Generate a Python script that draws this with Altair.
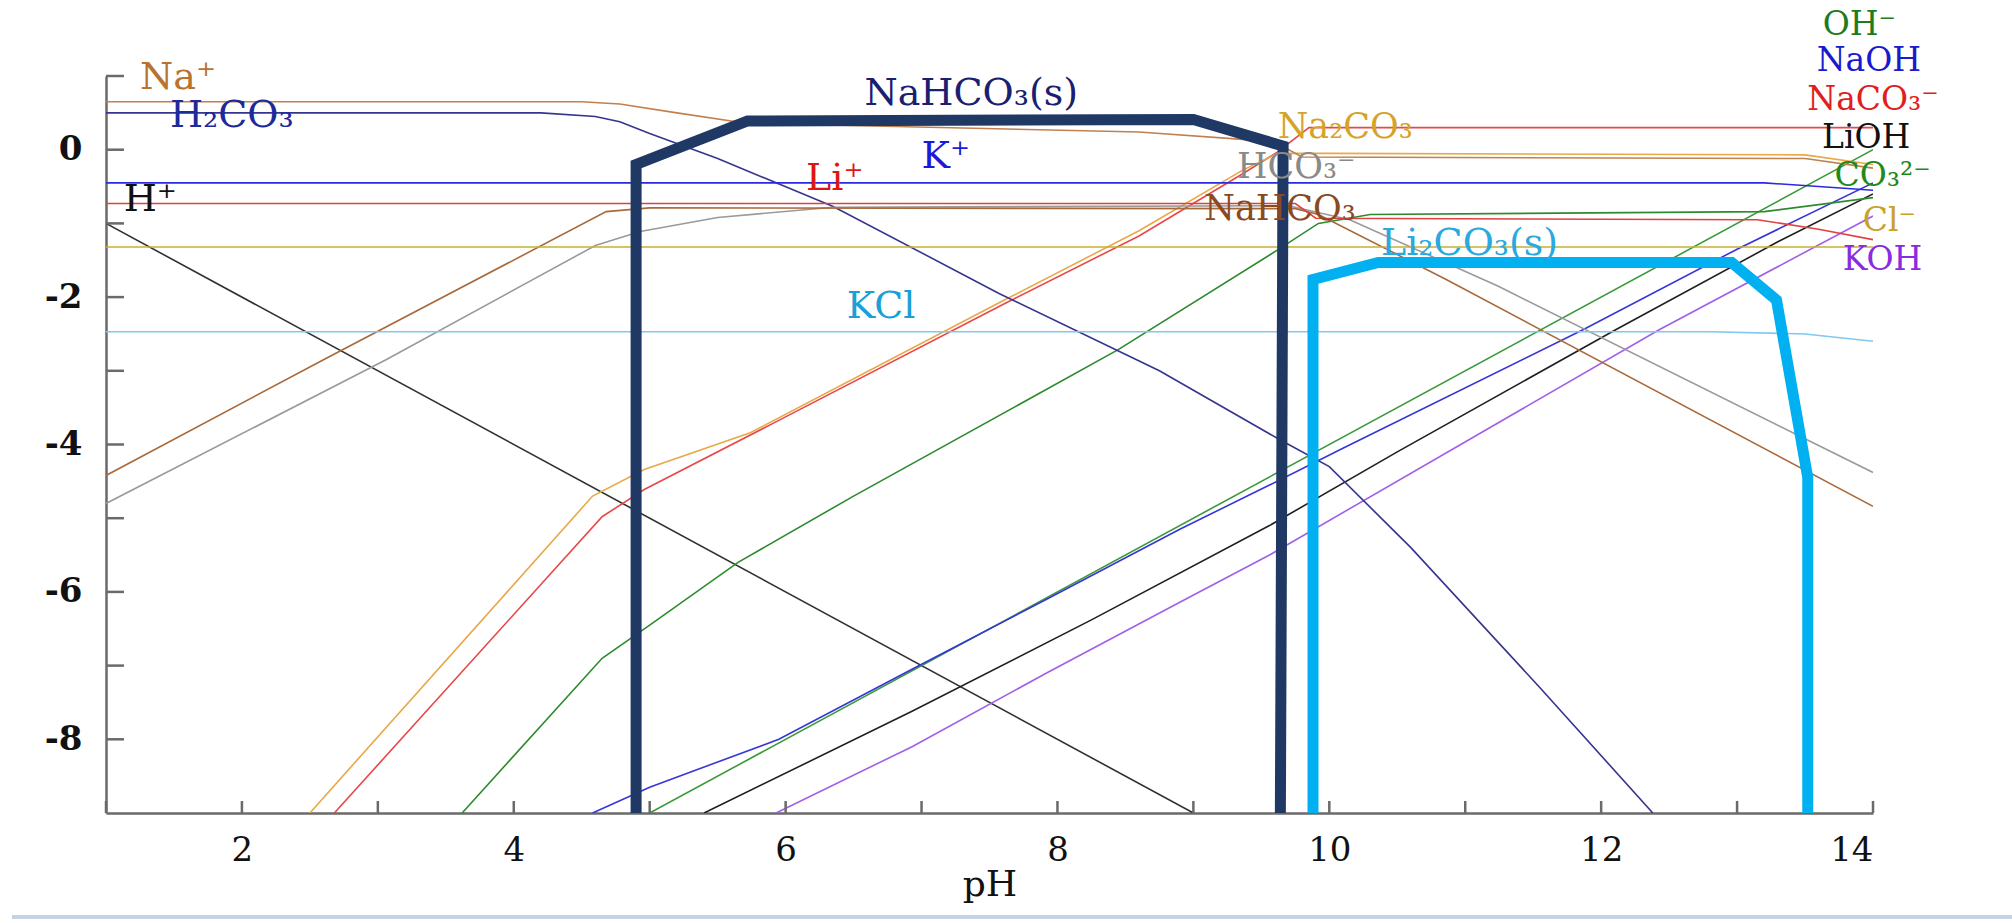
import altair as alt
import pandas as pd

# ---------------- data ----------------
hplus_ph = [1.0, 9.0]
hplus_log = [-1.0, -9.0]

oh_ph = [5.0, 14.0]
oh_log = [-9.0, 0.0]

naoh_ph = [4.58, 5.0, 5.95, 6.93, 7.92, 8.9, 9.56, 10.1, 11.87, 13.0, 14.0]
naoh_log = [-9.0, -8.65, -8.0, -7.05, -6.1, -5.15, -4.55, -4.05, -2.44, -1.35, -0.45]

lioh_ph = [5.4, 6.93, 8.25, 9.56, 10.5, 12.1, 13.3, 14.0]
lioh_log = [-9.0, -7.62, -6.38, -5.1, -4.1, -2.45, -1.25, -0.6]

koh_ph = [5.93, 6.93, 7.92, 8.9, 9.56, 12.43, 14.0]
koh_log = [-9.0, -8.1, -7.1, -6.14, -5.5, -2.44, -0.9]

co3_ph = [3.62, 4.65, 5.0, 5.65, 6.5, 8.45, 9.62, 9.92, 10.3, 13.2, 14.0]
co3_log = [-9.0, -6.9, -6.45, -5.6, -4.7, -2.71, -1.36, -1.0, -0.88, -0.84, -0.65]

naco3_ph = [2.68, 4.65, 4.96, 5.9, 7.62, 8.6, 9.36, 9.62, 9.85, 14.0]
naco3_log = [-9.0, -4.98, -4.61, -3.72, -2.08, -1.17, -0.33, -0.03, 0.3, 0.3]

na2co3_ph = [2.5, 4.58, 4.96, 5.74, 7.62, 8.6, 9.36, 9.62, 10.0, 13.5, 14.0]
na2co3_log = [-9.0, -4.7, -4.34, -3.84, -2.03, -1.1, -0.28, -0.05, -0.05, -0.07, -0.2]

na_ph = [1.0, 4.5, 4.78, 5.2, 5.71, 8.6, 9.36, 9.62, 9.8, 13.5, 14.0]
na_log = [0.65, 0.65, 0.62, 0.5, 0.36, 0.24, 0.14, 0.08, -0.1, -0.12, -0.25]

h2co3_ph = [1.0, 4.2, 4.6, 4.78, 5.0, 5.5, 6.35, 7.57, 8.75, 9.65, 10.0, 10.6, 11.55, 12.38]
h2co3_log = [0.5, 0.5, 0.45, 0.38, 0.22, -0.12, -0.77, -1.95, -3.0, -3.95, -4.3, -5.4, -7.3, -9.0]

hco3_ph = [1.0, 3.06, 4.6, 4.93, 5.5, 6.35, 9.7, 10.15, 11.24, 14.0]
hco3_log = [-4.8, -2.85, -1.3, -1.11, -0.92, -0.78, -0.76, -0.95, -1.85, -4.38]

nahco3_ph = [1.0, 2.6, 4.68, 5.0, 9.75, 9.92, 10.86, 14.0]
nahco3_log = [-4.42, -2.85, -0.84, -0.79, -0.8, -0.88, -1.76, -4.84]

kplus_ph = [1.0, 13.2, 13.6, 14.0]
kplus_log = [-0.45, -0.45, -0.5, -0.55]

liplus_ph = [1.0, 9.75, 9.9, 13.15, 13.6, 14.0]
liplus_log = [-0.73, -0.73, -0.93, -0.95, -1.08, -1.22]

cl_ph = [1.0, 14.0]
cl_log = [-1.32, -1.32]

kcl_ph = [1.0, 12.8, 13.5, 14.0]
kcl_log = [-2.47, -2.47, -2.5, -2.6]

series_names = ["H+", "OH-", "NaOH", "LiOH", "KOH", "CO3", "NaCO3-", "Na2CO3",
                "Na+", "H2CO3", "HCO3-", "NaHCO3", "K+", "Li+", "Cl-", "KCl"]
series_ph = [hplus_ph, oh_ph, naoh_ph, lioh_ph, koh_ph, co3_ph, naco3_ph, na2co3_ph,
             na_ph, h2co3_ph, hco3_ph, nahco3_ph, kplus_ph, liplus_ph, cl_ph, kcl_ph]
series_log = [hplus_log, oh_log, naoh_log, lioh_log, koh_log, co3_log, naco3_log, na2co3_log,
              na_log, h2co3_log, hco3_log, nahco3_log, kplus_log, liplus_log, cl_log, kcl_log]
series_colors = ["#303030", "#3a9a3a", "#3636d6", "#202020", "#a060e8", "#2e8a2e", "#e84848", "#e8a848",
                 "#c08050", "#35358f", "#9a9a9a", "#a86a3c", "#2a2ae0", "#e04040", "#c8b030", "#80c8f0"]

# solid-phase outlines
nahco3s_ph = [4.9, 4.9, 5.72, 9.0, 9.66, 9.64]
nahco3s_log = [-9.0, -0.2, 0.39, 0.41, 0.05, -9.0]
li2co3s_ph = [9.88, 9.88, 10.36, 12.96, 13.29, 13.52, 13.52]
li2co3s_log = [-9.0, -1.76, -1.53, -1.53, -2.04, -4.45, -9.0]

# labels (large, left-aligned)
left_text = ["Na⁺", "H₂CO₃", "H⁺", "NaHCO₃(s)", "K⁺", "Li⁺", "KCl", "Li₂CO₃(s)"]
left_ph = [1.25, 1.47, 1.13, 6.58, 7.0, 6.15, 6.45, 10.38]
left_log = [0.83, 0.31, -0.83, 0.6, -0.25, -0.55, -2.28, -1.43]
left_color = ["#b8732e", "#1c2a9c", "#111111", "#1a2070", "#1a1ad8", "#e01515", "#1aa0d8", "#2aa8e0"]

# labels (stacked group near pH 9-11)
mid_text = ["Na₂CO₃", "HCO₃⁻", "NaHCO₃"]
mid_ph = [9.62, 9.32, 9.08]
mid_log = [0.16, -0.39, -0.96]
mid_color = ["#d4a42a", "#8a8a8a", "#8a4a1e"]

right_text = ["OH⁻", "NaOH", "NaCO₃⁻", "LiOH", "CO₃²⁻", "Cl⁻", "KOH"]
right_ph = [13.9, 13.97, 14.0, 13.95, 14.07, 14.12, 14.07]
right_log = [1.69, 1.2, 0.68, 0.16, -0.36, -0.97, -1.5]
right_color = ["#1e7b1e", "#1a1acc", "#e02020", "#111111", "#1e8a1e", "#c9a227", "#8a2be2"]

x_ticks = list(range(1, 15))
y_ticks = list(range(-8, 2))
x_labels = [2, 4, 6, 8, 10, 12, 14]
y_labels = [-8, -6, -4, -2, 0]

# ---------------- build tables ----------------
rows = []
for name, xs, ys in zip(series_names, series_ph, series_log):
    for i, (a, b) in enumerate(zip(xs, ys)):
        rows.append({"species": name, "pH": a, "logC": b, "i": i})
lines_df = pd.DataFrame(rows)

orows = []
for name, xs, ys in [("NaHCO3(s)", nahco3s_ph, nahco3s_log), ("Li2CO3(s)", li2co3s_ph, li2co3s_log)]:
    for i, (a, b) in enumerate(zip(xs, ys)):
        orows.append({"solid": name, "pH": a, "logC": b, "i": i})
outline_df = pd.DataFrame(orows)

left_df = pd.DataFrame({"t": left_text, "pH": left_ph, "logC": left_log, "c": left_color})
mid_df = pd.DataFrame({"t": mid_text, "pH": mid_ph, "logC": mid_log, "c": mid_color})
right_df = pd.DataFrame({"t": right_text, "pH": right_ph, "logC": right_log, "c": right_color})
ytick_df = pd.DataFrame({"logC": y_ticks})
xtick_df = pd.DataFrame({"pH": x_ticks})

W, H = 1767, 737
FONT = "DejaVu Serif"

xscale = alt.Scale(domain=[1, 14], nice=False, zero=False)
yscale = alt.Scale(domain=[-9, 1], nice=False, zero=False)

xaxis = alt.Axis(values=x_labels, ticks=False, tickSize=0, grid=False,
                 labelFont=FONT, labelFontSize=34, labelColor="#111111", labelPadding=20,
                 labelExpr="'' + datum.value",
                 domainColor="#6a6a6a", domainWidth=2.5,
                 title="pH", titleFont=FONT, titleFontSize=36, titleFontWeight="normal",
                 titleColor="#111111", titlePadding=0)
yaxis = alt.Axis(values=y_labels, ticks=False, tickSize=0, grid=False,
                 labelFont=FONT, labelFontSize=34, labelFontWeight="bold", labelColor="#111111",
                 labelPadding=24, labelExpr="'' + datum.value",
                 domainColor="#6a6a6a", domainWidth=2.5, title="")

X = alt.X("pH:Q", scale=xscale)
Y = alt.Y("logC:Q", scale=yscale)

base_lines = alt.Chart(lines_df).mark_line(strokeWidth=1.6, clip=True).encode(
    x=alt.X("pH:Q", scale=xscale, axis=xaxis),
    y=alt.Y("logC:Q", scale=yscale, axis=yaxis),
    color=alt.Color("species:N", scale=alt.Scale(domain=series_names, range=series_colors), legend=None),
    detail="species:N",
    order="i:Q",
)

outline = alt.Chart(outline_df).mark_line(strokeWidth=11, strokeJoin="miter", strokeCap="butt").encode(
    x=X, y=Y,
    color=alt.Color("solid:N", scale=alt.Scale(domain=["NaHCO3(s)", "Li2CO3(s)"],
                                               range=["#203864", "#00b0f0"]), legend=None),
    detail="solid:N",
    order="i:Q",
)

yticks = alt.Chart(ytick_df).mark_rule(color="#6a6a6a", strokeWidth=2.5).encode(
    y=Y, x=alt.value(0), x2=alt.value(18))
xticks = alt.Chart(xtick_df).mark_rule(color="#6a6a6a", strokeWidth=2.5).encode(
    x=X, y=alt.value(H), y2=alt.value(H - 12))

left_labels = alt.Chart(left_df).mark_text(font=FONT, fontSize=38, align="left",
                                           baseline="alphabetic").encode(
    x=X, y=Y, text="t:N", color=alt.Color("c:N", scale=None),
)
mid_labels = alt.Chart(mid_df).mark_text(font=FONT, fontSize=35, align="left",
                                         baseline="alphabetic").encode(
    x=X, y=Y, text="t:N", color=alt.Color("c:N", scale=None),
)
right_labels = alt.Chart(right_df).mark_text(font=FONT, fontSize=33, align="center",
                                             baseline="middle").encode(
    x=X, y=Y, text="t:N", color=alt.Color("c:N", scale=None),
)

slide_edge = alt.Chart(pd.DataFrame({"k": [0]})).mark_rule(color="#c3d3e3", strokeWidth=4).encode(
    x=alt.value(-94), x2=alt.value(1906), y=alt.value(841))

chart = alt.layer(
    base_lines, outline, yticks, xticks, left_labels, mid_labels, right_labels, slide_edge
).resolve_scale(color="independent").properties(
    width=W, height=H,
    autosize=alt.AutoSizeParams(type="none"),
    padding={"left": 106, "top": 76, "right": 139, "bottom": 110},
    background="white",
).configure_view(stroke=None)

chart.save("out.html", embed_options={"renderer": "svg", "actions": False})
